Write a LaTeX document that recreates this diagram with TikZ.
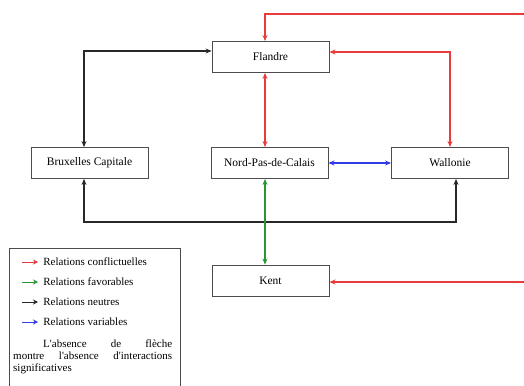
\documentclass[tikz,border=0pt]{standalone}
\usepackage{fontspec}
\setmainfont{Liberation Serif}[Ligatures=TeXOff]
\usetikzlibrary{arrows.meta}
\definecolor{rred}{RGB}{232,60,60}
\definecolor{ggreen}{RGB}{40,150,50}
\definecolor{bblue}{RGB}{50,60,230}
\definecolor{bblack}{RGB}{40,40,40}
\begin{document}
\begin{tikzpicture}[x=1pt,y=-1pt,
  region/.style={draw=black!70,line width=0.9pt,minimum width=117pt,minimum height=31pt,inner sep=0pt,font=\fontsize{11.5}{13}\selectfont,fill=white},
  link/.style={line width=1.1pt,-{Stealth[length=6pt,width=5pt]}},
  both/.style={line width=1.1pt,{Stealth[length=6pt,width=5pt]}-{Stealth[length=6pt,width=5pt]}},
  legtxt/.style={anchor=west,inner sep=0pt,font=\fontsize{11}{12}\selectfont},
  legarr/.style={line width=0.8pt,-{Stealth[length=5pt,width=5pt]}}]
\useasboundingbox (0,0) rectangle (524,385);
\fill[white] (0,0) rectangle (524,385);
\node[region] (fl) at (270.5,57) {Flandre};
\node[region] (bx) at (89.5,163) {Bruxelles Capitale};
\node[region] (np) at (269.5,163) {Nord-Pas-de-Calais};
\node[region] (wa) at (450,163) {Wallonie};
\node[region] (ke) at (270.5,280.5) {Kent};
\coordinate (rt) at (524,14);
\coordinate (rk) at (524,282);
% red
\draw[link,rred] (rt) -| ([xshift=-5.5pt]fl.north);
\draw[both,rred] ([xshift=-5.5pt]fl.south) -- ([xshift=-4.5pt]np.north);
\draw[both,rred] (fl.east |- 0,52) -| (wa.north |- 0,147);
\draw[link,rred] (rk) -- (ke.east |- rk);
% black
\draw[both,bblack] (bx.north -| 84,0) |- (fl.west |- 0,51);
\draw[both,bblack] (bx.south -| 84,0) |- (456,222) -- (wa.south -| 456,0);
% green
\draw[both,ggreen] ([xshift=-4.5pt]np.south) -- ([xshift=-5.5pt]ke.north);
% blue
\draw[both,bblue] (np.east) -- (wa.west);
% legend
\node[draw=black!70,line width=0.8pt,minimum width=171pt,minimum height=150pt,anchor=north west,inner sep=0pt] (lg) at (9,248) {};
\coordinate (l1) at (22,262);
\coordinate (l2) at (22,282);
\coordinate (l3) at (22,302);
\coordinate (l4) at (22,322);
\draw[legarr,rred] (l1) -- ++(16,0) node[legtxt,black,right=5pt] (t1) {Relations conflictuelles};
\draw[legarr,ggreen] (l2) -- ++(16,0) node[legtxt,black,right=5pt] (t2) {Relations favorables};
\draw[legarr,bblack] (l3) -- ++(16,0) node[legtxt,black,right=5pt] (t3) {Relations neutres};
\draw[legarr,bblue] (l4) -- ++(16,0) node[legtxt,black,right=5pt] (t4) {Relations variables};
\node[anchor=north west,inner sep=0pt,text width=159pt,font=\fontsize{11}{12}\selectfont] (t5) at (13,339.5) {\hspace*{30pt}L'absence\hfill de\hfill flèche\\montre\hfill l'absence\hfill d'interactions\\significatives};
\end{tikzpicture}
\end{document}
